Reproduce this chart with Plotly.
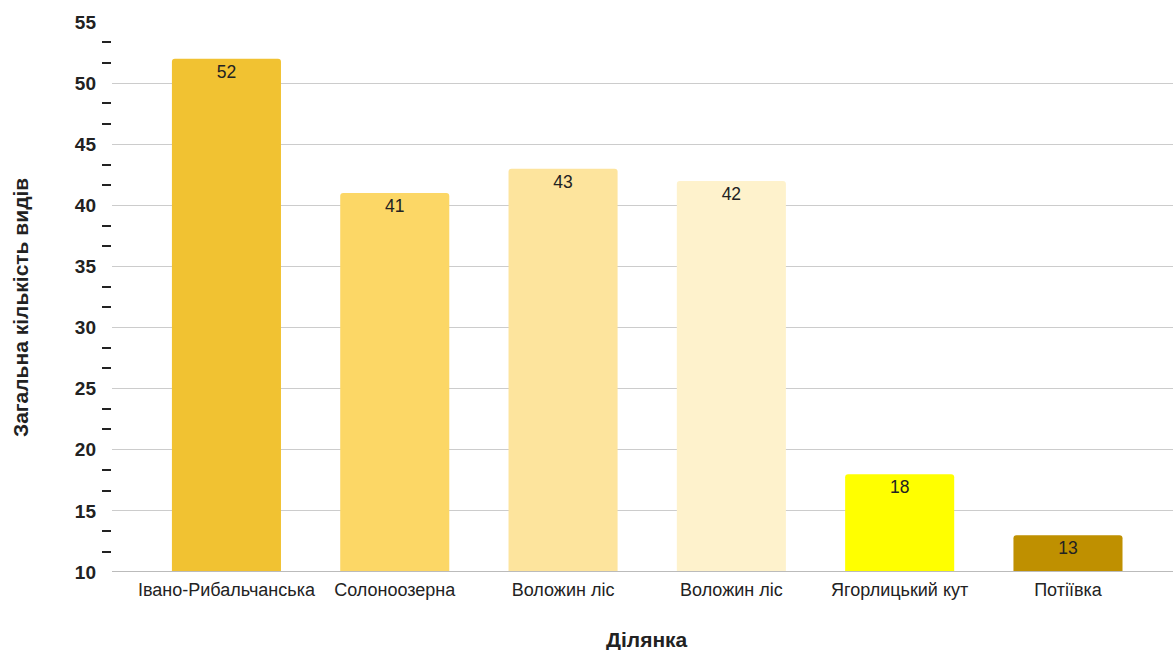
import plotly.graph_objects as go

categories = ["Івано-Рибальчанська", "Солоноозерна", "Воложин ліс", "Воложин ліс", "Ягорлицький кут", "Потіївка"]
values = [52, 41, 43, 42, 18, 13]
colors = ["#F1C232", "#FCD766", "#FDE49D", "#FEF2CC", "#FFFF00", "#BF9000"]
positions = list(range(len(categories)))
x_title = "Ділянка"
y_title = "Загальна кількість видів"

fig = go.Figure(go.Bar(
    x=positions, y=values,
    marker=dict(color=colors, line=dict(width=0), cornerradius=3),
    width=0.648,
    text=[str(v) for v in values],
    textposition="inside", insidetextanchor="end",
    textfont=dict(family="Arial", size=17.5, color="#222222"),
    textangle=0,
    hoverinfo="skip",
))

fig.update_layout(
    width=1173, height=650,
    margin=dict(l=112, r=0, t=22, b=78),
    plot_bgcolor="white", paper_bgcolor="white",
    showlegend=False,
    uniformtext=dict(minsize=17, mode="show"),
    xaxis=dict(
        range=[-0.680, 5.624],
        tickvals=positions, ticktext=categories,
        tickfont=dict(family="Arial", size=18, color="#222222"),
        showgrid=False, zeroline=False, showline=False, ticks="",
        ticklabelstandoff=5,
        fixedrange=True,
    ),
    yaxis=dict(
        range=[10, 55],
        tickmode="linear", tick0=10, dtick=5,
        tickfont=dict(family="Arial", size=19, color="#222222", weight="bold"),
        showgrid=True, gridcolor="#CCCCCC", gridwidth=1,
        zeroline=False, showline=False,
        ticks="",
        ticklabelstandoff=15,
        minor=dict(ticks="outside", ticklen=9, tick0=10, dtick=5/3, tickcolor="#222222", tickwidth=2, showgrid=False),
        fixedrange=True,
    ),
    annotations=[
        dict(text=x_title, xref="paper", yref="paper", x=0.504, y=-0.1236,
             xanchor="center", yanchor="middle", showarrow=False,
             font=dict(family="Arial", size=21, color="#222222", weight="bold")),
        dict(text=y_title, xref="paper", yref="paper", x=-0.0867, y=0.48, textangle=-90,
             xanchor="center", yanchor="middle", showarrow=False,
             font=dict(family="Arial", size=21, color="#222222", weight="bold")),
    ],
)
# baseline at 10
fig.add_shape(type="line", xref="paper", yref="y", x0=0, x1=1, y0=10, y1=10,
              line=dict(color="#BBBBBB", width=2), layer="above")

fig.write_html("out.html")
